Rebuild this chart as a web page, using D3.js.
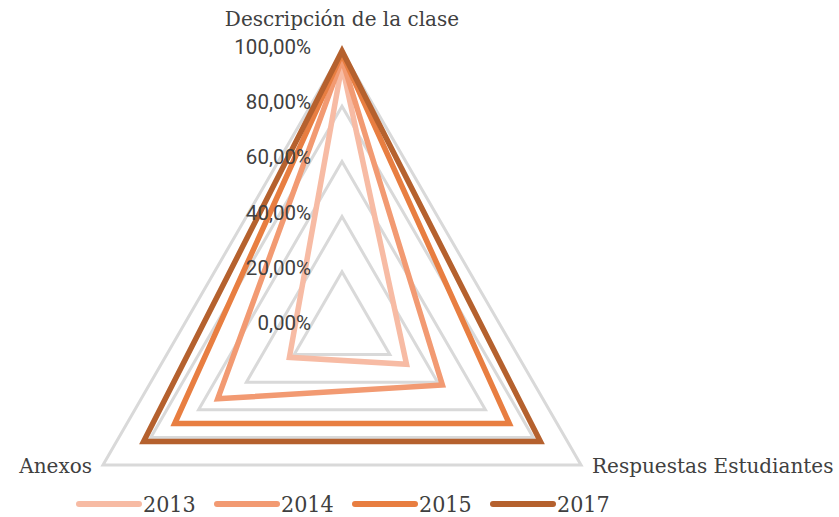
<!DOCTYPE html>
<html>
<head>
<meta charset="utf-8">
<script src="https://cdn.jsdelivr.net/npm/d3@7"></script>
<style>
  body { margin: 0; background: #fff; }
  .tick-label { font-family: Roboto, "Noto Sans", sans-serif; font-size: 20.5px; fill: #404040; }
  .cat-label { font-family: "DejaVu Serif", serif; font-size: 20px; fill: #404040; }
  .legend-label { font-family: "DejaVu Serif Condensed", "DejaVu Serif", serif; font-stretch: condensed; font-size: 23px; fill: #404040; }
</style>
</head>
<body>
<svg id="chart" width="839" height="517"></svg>
<script>
// data
const categories = ['Descripción de la clase', 'Respuestas Estudiantes', 'Anexos'];
const years = ['2013', '2014', '2015', '2017'];
const values2013 = [0.95, 0.27, 0.22];
const values2014 = [0.97, 0.42, 0.52];
const values2015 = [0.99, 0.70, 0.70];
const values2017 = [1.00, 0.83, 0.83];
const ticks = [0, 0.2, 0.4, 0.6, 0.8, 1.0];
const colors = ['#f7bba4', '#f29a72', '#e87e41', '#b5612e'];

let series = [values2013, values2014, values2015, values2017].map((v, i) => ({ year: years[i], values: v }));

let svg = d3.select('#chart');
let cx = 342, cy = 327, R = 276;

let r = d3.scaleLinear().domain([0, 1]).range([0, R]);
let angle = d3.scalePoint().domain(categories).range([0, 2 * Math.PI * 2 / 3]);

let radial = d3.lineRadial()
    .angle((d, i) => angle(categories[i]))
    .radius(d => r(d))
    .curve(d3.curveLinearClosed);

let g = svg.append('g').attr('transform', 'translate(' + cx + ',' + cy + ')');

// grid rings
g.append('g').selectAll('path')
    .data(ticks.slice(1))
    .enter()
    .append('path')
    .attr('d', t => radial(categories.map(() => t)))
    .attr('fill', 'none')
    .attr('stroke', '#d9d9d9')
    .attr('stroke-width', 3)
    .attr('stroke-linejoin', 'miter');

// series
g.append('g').selectAll('path')
    .data(series)
    .enter()
    .append('path')
    .attr('d', d => radial(d.values))
    .attr('fill', 'none')
    .attr('stroke', (d, i) => colors[i])
    .attr('stroke-width', 5.5)
    .attr('stroke-linejoin', 'miter');

// tick labels
g.append('g').selectAll('text')
    .data(ticks)
    .enter()
    .append('text')
    .attr('class', 'tick-label')
    .attr('x', -31)
    .attr('y', t => -r(t) + 3)
    .attr('text-anchor', 'end')
    .text(t => d3.format('.2f')(t * 100).replace('.', ',') + '%');

// category labels
let catPos = [
    { x: 0, y: -R - 25, anchor: 'middle' },
    { x: R * Math.sin(2 * Math.PI / 3) + 11, y: R / 2 + 8, anchor: 'start' },
    { x: -R * Math.sin(2 * Math.PI / 3) - 11, y: R / 2 + 8, anchor: 'end' }
];
g.append('g').selectAll('text')
    .data(categories)
    .enter()
    .append('text')
    .attr('class', 'cat-label')
    .attr('x', (d, i) => catPos[i].x)
    .attr('y', (d, i) => catPos[i].y)
    .attr('text-anchor', (d, i) => catPos[i].anchor)
    .text(d => d);

// legend
let legend = svg.append('g').attr('transform', 'translate(79,504)');
let item = legend.selectAll('g')
    .data(series)
    .enter()
    .append('g')
    .attr('transform', (d, i) => 'translate(' + (i * 138) + ',0)');
item.append('line')
    .attr('x1', 0).attr('x2', 60)
    .attr('y1', 0).attr('y2', 0)
    .attr('stroke', (d, i) => colors[i])
    .attr('stroke-width', 6)
    .attr('stroke-linecap', 'round');
item.append('text')
    .attr('class', 'legend-label')
    .attr('x', 64)
    .attr('y', 8)
    .text(d => d.year);
</script>
</body>
</html>
